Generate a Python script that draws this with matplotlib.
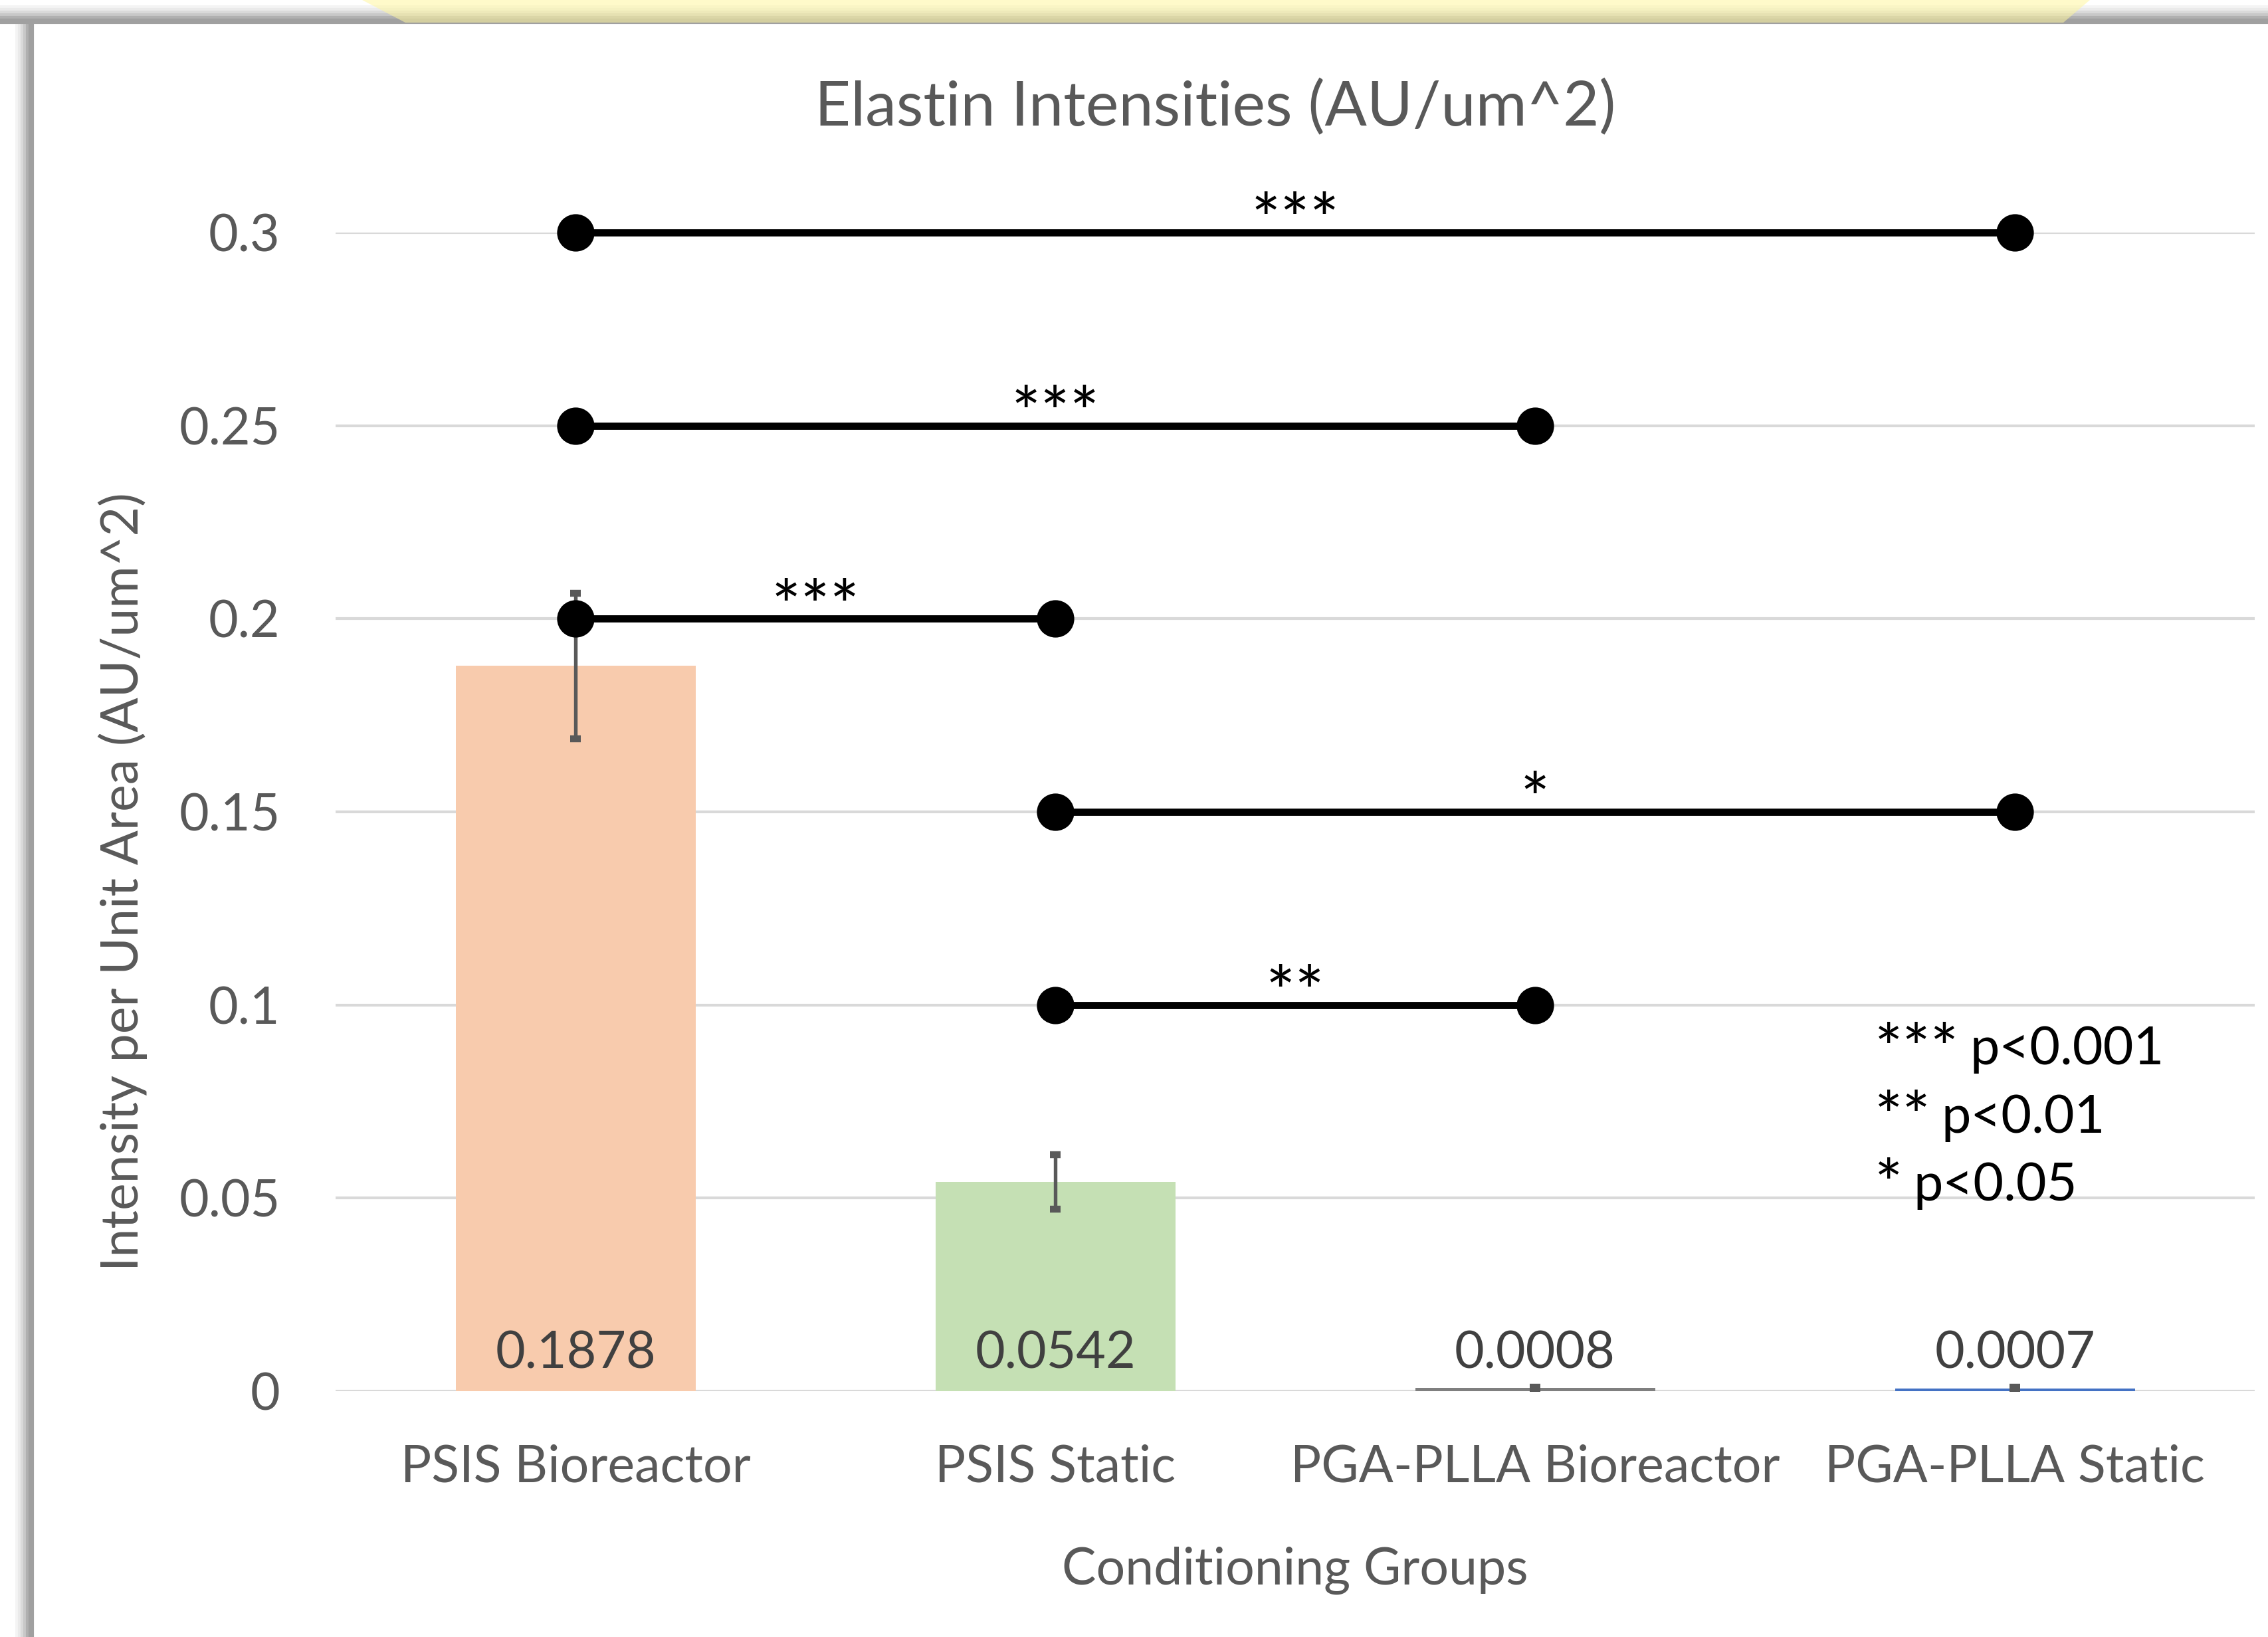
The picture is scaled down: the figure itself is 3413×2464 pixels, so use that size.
import matplotlib
matplotlib.use("Agg")
import matplotlib.pyplot as plt
from matplotlib.patches import Rectangle, Polygon

plt.rcParams['font.family'] = ['Lato', 'DejaVu Sans']

# data
groups = ['PSIS Bioreactor', 'PSIS Static', 'PGA-PLLA Bioreactor', 'PGA-PLLA Static']
values = [0.1878, 0.0542, 0.0008, 0.0007]
errors = [0.0188, 0.0071, 0.0003, 0.0003]
bar_colors = ['#F8CBAD', '#C5E0B4', '#7F7F7F', '#4472C4']

# significance brackets: (group a, group b, height, stars)
sig_a = [0, 0, 0, 1, 1]
sig_b = [3, 2, 1, 3, 2]
sig_y = [0.30, 0.25, 0.20, 0.15, 0.10]
sig_stars = ['***', '***', '***', '*', '**']

legend_stars = ['***', '**', '*']
legend_p = ['p<0.001', 'p<0.01', 'p<0.05']
legend_base = [0.0846, 0.0670, 0.0494]

W, H = 3413, 2464
fig = plt.figure(figsize=(W / 300, H / 300), dpi=300)

# screenshot frame: gray shadow on top/left, yellow glow on top
shades = ['#F4F4F4', '#EAEAEA', '#DADADA', '#C8C8C8', '#B0B0B0', '#A0A0A0']
for i, c in enumerate(shades):
    y0 = 1 - (10 + i * 4) / H
    fig.patches.append(Rectangle((0, y0 - 4 / H), 1, 4 / H, transform=fig.transFigure,
                                 color=c, zorder=0))
    x0 = (25 + i * 4) / W
    fig.patches.append(Rectangle((x0, 0), 4 / W, 1 - 34 / H, transform=fig.transFigure,
                                 color=c, zorder=0))
fig.patches.append(Polygon([(545 / W, 1), (3145 / W, 1), (3105 / W, 1 - 34 / H), (610 / W, 1 - 34 / H)],
                           closed=True, transform=fig.transFigure, color='#FFF7A0',
                           alpha=0.55, zorder=1, lw=0))

ax = fig.add_axes([505 / W, 370 / H, (3393 - 505) / W, (2094 - 350) / H])
x = list(range(len(groups)))
ax.bar(x, values, width=0.5, color=bar_colors, zorder=2)
ax.errorbar(x, values, yerr=errors, fmt='none', ecolor='#595959', elinewidth=1.3,
            capsize=2, capthick=2.5, zorder=3)

for xi, v in zip(x, values):
    ax.annotate(f'{v:.4f}', (xi, 0), xytext=(0, 5), textcoords='offset points',
                ha='center', va='bottom', fontsize=18.5, color='#404040', zorder=4)

for a, b, yv, s in zip(sig_a, sig_b, sig_y, sig_stars):
    ax.plot([a, b], [yv, yv], color='black', lw=2.6, marker='o', markersize=12.5,
            clip_on=False, zorder=5)
    ax.text((a + b) / 2, yv - 0.003, s, ha='center', va='baseline', fontsize=25,
            color='black', zorder=5)

# p-value key
for st, pt, yb in zip(legend_stars, legend_p, legend_base):
    t = ax.text(2.707, yb - 0.002, st, ha='left', va='baseline', fontsize=24, color='black')
    ax.annotate(pt, xy=(1, yb), xycoords=(t, 'data'), xytext=(4, 0),
                textcoords='offset points', ha='left', va='baseline',
                fontsize=19, color='black')

ax.set_xlim(-0.5, 3.5)
ax.set_ylim(0, 0.3)
ax.set_yticks([0, 0.05, 0.1, 0.15, 0.2, 0.25, 0.3])
ax.set_yticklabels(['0', '0.05', '0.1', '0.15', '0.2', '0.25', '0.3'])
ax.set_xticks(x)
ax.set_xticklabels(groups)
ax.tick_params(axis='both', length=0, labelsize=18.5, labelcolor='#595959')
ax.tick_params(axis='y', pad=20)
ax.tick_params(axis='x', pad=19)
ax.grid(axis='y', color='#D9D9D9', lw=1.0, zorder=0)
ax.set_axisbelow(True)
for sp in ax.spines.values():
    sp.set_visible(False)

ax.set_xlabel('Conditioning Groups', fontsize=18.5, color='#595959', labelpad=20)
ax.set_ylabel('Intensity per Unit Area (AU/um^2)', fontsize=18.5, color='#595959')
ax.yaxis.set_label_coords(-0.098, 0.44)
fig.text(0.5357, 1 - 162 / H, 'Elastin Intensities (AU/um^2)', ha='center', va='center',
         fontsize=22.5, color='#595959')

fig.savefig('out.png', dpi=300)
